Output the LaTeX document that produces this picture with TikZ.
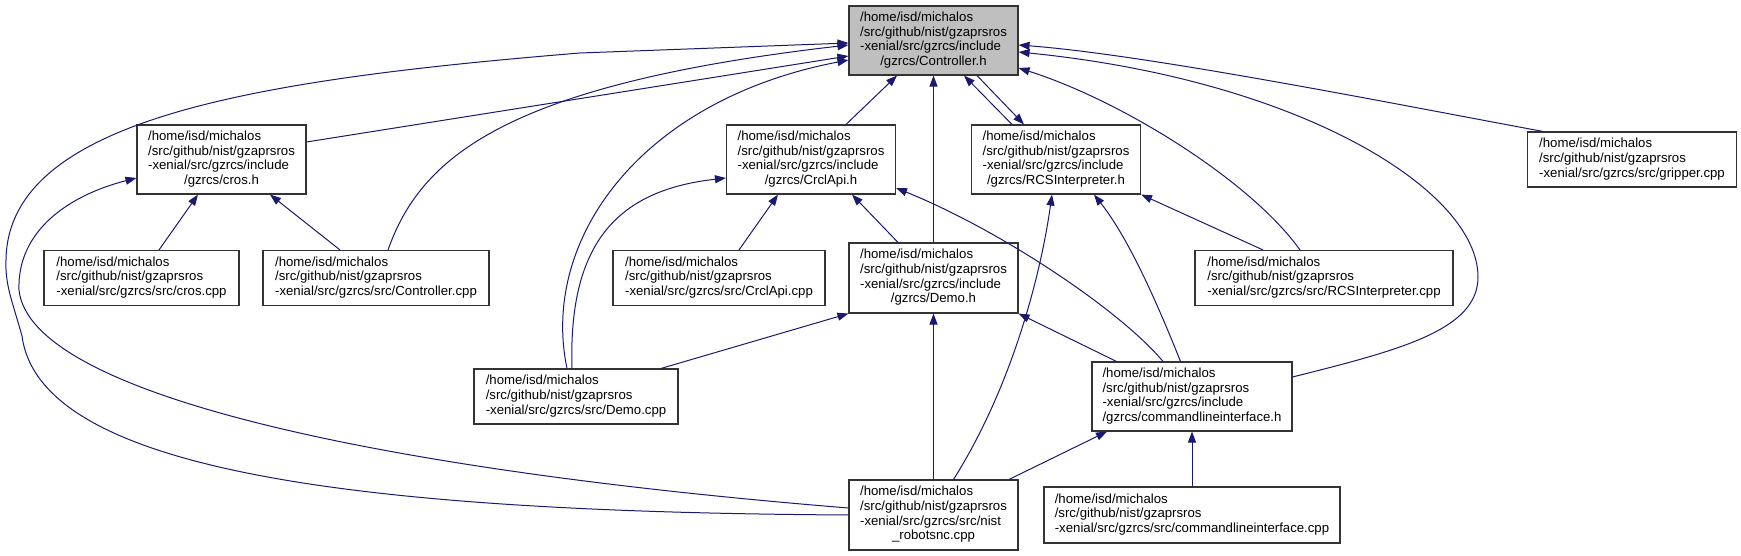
\documentclass[tikz,border=0pt]{standalone}
\usepackage{fontspec}
\setmainfont{Liberation Sans}
\usetikzlibrary{arrows.meta,positioning}
\definecolor{inclblue}{RGB}{25,25,112}

\newcommand{\hpath}[1]{\begin{tabular}{@{}l@{}}/home/isd/michalos\\/src/github/nist/gzaprsros\\-xenial/src/gzrcs/include\\\multicolumn{1}{@{}c@{}}{/gzrcs/#1}\end{tabular}}
\newcommand{\cpath}[1]{\begin{tabular}{@{}l@{}}/home/isd/michalos\\/src/github/nist/gzaprsros\\\multicolumn{1}{@{}c@{}}{-xenial/src/gzrcs/src/#1}\end{tabular}}

\begin{document}
\begin{tikzpicture}[x=1pt, y=-1pt,
    file/.style={draw=black!80, line width=1.1pt, fill=white, inner sep=0pt,
        font=\fontsize{13.2}{14.7}\selectfont},
    hdr/.style={file, minimum width=169pt, minimum height=69pt},
    src/.style={file, minimum height=55pt},
    focus/.style={hdr, fill=black!25},
    incl/.style={draw=inclblue, line width=1pt, -{Triangle[length=11pt,width=8pt]}}
]
\useasboundingbox (0,0) rectangle (1741,556);

% Headers
\node[focus] (ctrl) at (933.5,40.5) {\hpath{Controller.h}};
\node[hdr] (crosh) at (221.5,159.5) {\hpath{cros.h}};
\node[hdr] (crclh) at (811,159.5) {\hpath{CrclApi.h}};
\node[hdr] (rcsh) at (1056,159.5) {\hpath{RCSInterpreter.h}};
\node[hdr, minimum height=70pt] (demoh) at (933.5,278) {\hpath{Demo.h}};
\node[hdr, minimum width=200pt] (clih) at (1192,396.5) {\hpath{commandlineinterface.h}};

% Sources
\node[src, minimum width=209pt] (gripper) at (1632,159.5) {\cpath{gripper.cpp}};
\node[src, minimum width=195pt] (croscpp) at (141.5,278) {\cpath{cros.cpp}};
\node[src, minimum width=226pt] (ctrlcpp) at (376,278) {\cpath{Controller.cpp}};
\node[src, minimum width=212pt] (crclcpp) at (719,278) {\cpath{CrclApi.cpp}};
\node[src, minimum width=258pt] (rcscpp) at (1324,278) {\cpath{RCSInterpreter.cpp}};
\node[src, minimum width=204pt] (democpp) at (576,396.5) {\cpath{Demo.cpp}};
\node[src, minimum width=296pt, minimum height=56pt] (clicpp) at (1192,515) {\cpath{commandlineinterface.cpp}};
\node[hdr, minimum height=70pt] (nist) at (933.5,515) {\begin{tabular}{@{}l@{}}/home/isd/michalos\\/src/github/nist/gzaprsros\\-xenial/src/gzrcs/src/nist\\\multicolumn{1}{@{}c@{}}{\_robotsnc.cpp}\end{tabular}};

% Into Controller.h
\draw[incl] ([yshift=17.5pt]crosh.east) -- ([yshift=-15.5pt]ctrl.west);
\draw[incl] ([xshift=12pt]ctrlcpp.north) .. controls (420,160) and (500,85) .. ([yshift=-4.5pt]ctrl.west);
\draw[incl] ([xshift=-9pt]democpp.north) .. controls (540,240) and (640,100) .. ([yshift=-19.5pt]ctrl.west);
\draw[incl] (nist.west) .. controls (350,512) and (40,470) .. (22,336)
    .. controls (12,300) and (5,285) .. (6,260)
    .. controls (8,120) and (250,80) .. (580,53) -- ([yshift=-2.5pt]ctrl.west);
\draw[incl] ([xshift=35pt]crclh.north) -- ([xshift=-36.5pt]ctrl.south);
\draw[incl] (demoh.north) -- (ctrl.south);
\draw[incl] ([xshift=-44pt]rcsh.north) -- ([xshift=30.5pt]ctrl.south);
\draw[incl] ([xshift=43.5pt]ctrl.south) -- ([xshift=-32pt]rcsh.north);
\draw[incl] ([xshift=-89pt]gripper.north) .. controls (1400,105) and (1150,55) .. ([yshift=-4.5pt]ctrl.east);
\draw[incl] ([xshift=-24pt]rcscpp.north) .. controls (1250,180) and (1120,100) .. ([yshift=-27.5pt]ctrl.east);
\draw[incl] ([yshift=19.5pt]clih.east) .. controls (1400,350) and (1478,330) .. (1478,277)
    .. controls (1478,190) and (1300,80) .. ([yshift=-11.5pt]ctrl.east);

% Into cros.h
\draw[incl] ([xshift=17.5pt]croscpp.north) -- ([xshift=-23.5pt]crosh.south);
\draw[incl] ([xshift=-36pt]ctrlcpp.north) -- ([xshift=48.5pt]crosh.south);
\draw[incl] ([yshift=7pt]nist.west) .. controls (380,470) and (30,395) .. (19,290)
    .. controls (17,230) and (70,195) .. ([yshift=-18.5pt]crosh.west);

% Into CrclApi.h
\draw[incl] ([xshift=20pt]crclcpp.north) -- ([xshift=-33pt]crclh.south);
\draw[incl] ([xshift=-35.5pt]demoh.north) -- ([xshift=41pt]crclh.south);
\draw[incl] ([xshift=-4pt]democpp.north) .. controls (568,240) and (620,190) .. ([yshift=-18.5pt]crclh.west);
\draw[incl] ([xshift=-29pt]clih.north) .. controls (1120,310) and (1000,230) .. ([yshift=-28.5pt]crclh.east);

% Into RCSInterpreter.h
\draw[incl] ([xshift=-61pt]rcscpp.north) -- (rcsh.south east);
\draw[incl] ([xshift=-11.5pt]clih.north) .. controls (1160,310) and (1130,240) .. ([xshift=38pt]rcsh.south);
\draw[incl] ([xshift=20pt]nist.north) .. controls (1010,390) and (1040,280) .. ([xshift=-4pt]rcsh.south);

% Into Demo.h
\draw[incl] ([xshift=85pt]democpp.north) -- (demoh.south west);
\draw[incl] (nist.north) -- (demoh.south);
\draw[incl] ([xshift=-75.5pt]clih.north) -- (demoh.south east);

% Into commandlineinterface.h
\draw[incl] ([xshift=75.5pt]nist.north) -- ([xshift=-85pt]clih.south);
\draw[incl] (clicpp.north) -- (clih.south);

\end{tikzpicture}
\end{document}
